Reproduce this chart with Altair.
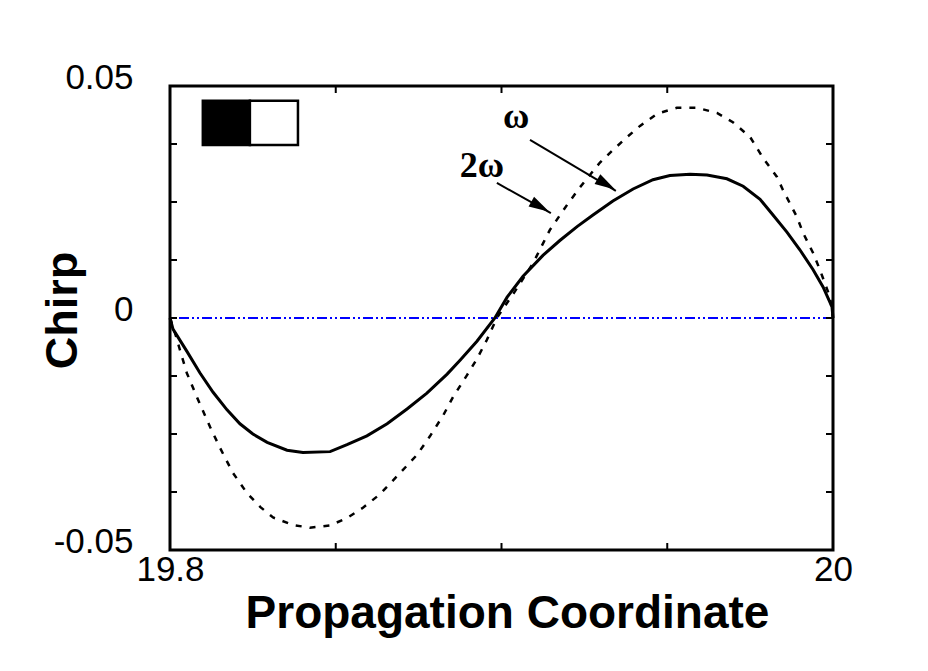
import math
import altair as alt
import pandas as pd

# ---------------- data ----------------
solid_x = [19.8, 19.8009, 19.8051, 19.8090, 19.8130, 19.8172, 19.8211, 19.8250, 19.8293,
           19.8353, 19.8401, 19.8483, 19.8534, 19.8594, 19.8655, 19.8715, 19.8775, 19.8836,
           19.8875, 19.8926, 19.8980, 19.9017, 19.9065, 19.9125, 19.9176, 19.9228, 19.9276,
           19.9336, 19.9397, 19.9457, 19.9508, 19.9569, 19.9620, 19.9680, 19.9729, 19.9780,
           19.9819, 19.9861, 19.9900, 19.9940, 19.9970, 19.9997, 20.0]
solid_y = [0.0, -0.0024, -0.0072, -0.0118, -0.0160, -0.0198, -0.0228, -0.0250, -0.0268,
           -0.0285, -0.0290, -0.0288, -0.0273, -0.0254, -0.0228, -0.0196, -0.0162, -0.0121,
           -0.0091, -0.0050, 0.0, 0.0045, 0.0090, 0.0135, 0.0167, 0.0197, 0.0222,
           0.0252, 0.0278, 0.0298, 0.0307, 0.0310, 0.0308, 0.0300, 0.0284, 0.0256,
           0.0222, 0.0185, 0.0147, 0.0104, 0.0067, 0.0024, 0.0]

dashed_x = [19.8, 19.8015, 19.8030, 19.8051, 19.8081, 19.8121, 19.8151, 19.8190, 19.8232,
            19.8272, 19.8311, 19.8371, 19.8422, 19.8483, 19.8534, 19.8582, 19.8633, 19.8694,
            19.8745, 19.8784, 19.8824, 19.8854, 19.8896, 19.8926, 19.8956, 19.8986, 19.9041,
            19.9095, 19.9146, 19.9198, 19.9237, 19.9297, 19.9336, 19.9379, 19.9418, 19.9469,
            19.9529, 19.9590, 19.9650, 19.9698, 19.9750, 19.9789, 19.9831, 19.9849, 19.9891,
            19.9910, 19.9940, 19.9961, 19.9991, 20.0]
dashed_y = [0.0, -0.0032, -0.0069, -0.0119, -0.0170, -0.0235, -0.0280, -0.0334, -0.0377,
            -0.0407, -0.0430, -0.0446, -0.0452, -0.0447, -0.0431, -0.0409, -0.0380, -0.0334,
            -0.0295, -0.0255, -0.0210, -0.0170, -0.0123, -0.0088, -0.0047, 0.0, 0.0058,
            0.0118, 0.0190, 0.0244, 0.0282, 0.0335, 0.0362, 0.0390, 0.0414, 0.0440,
            0.0453, 0.0453, 0.0442, 0.0422, 0.0390, 0.0345, 0.0304, 0.0276, 0.0218,
            0.0183, 0.0140, 0.0103, 0.0045, 0.0]

x_domain = [19.8, 20.0]
y_domain = [-0.05, 0.05]
x_label_values = [19.8, 20.0]
x_label_texts = ["19.8", "20"]
y_label_values = [-0.05, 0.0, 0.05]
y_label_texts = ["-0.05", "0", "0.05"]
x_minor_ticks = [19.85, 19.9, 19.95]
y_minor_ticks = [-0.0375, -0.025, -0.0125, 0.0, 0.0125, 0.025, 0.0375]

# annotation labels (text baseline positions) and arrows (start -> tip, head centre)
ann_labels = ["ω", "2ω"]
ann_text_x = [19.9044, 19.8941]
ann_text_y = [0.0410, 0.0304]
arrow_start_x = [19.9086, 19.8986]
arrow_start_y = [0.0384, 0.0291]
arrow_tip_x = [19.9345, 19.9149]
arrow_tip_y = [0.0274, 0.0226]
arrow_head_x = [19.9316, 19.9117]
arrow_head_y = [0.0288, 0.0240]

# small black / white boxes at top-left
box_x = [19.8099, 19.8241]
box_x2 = [19.8241, 19.8386]
box_y = [0.0373, 0.0373]
box_y2 = [0.0468, 0.0468]
box_fill = ["black", "white"]

# ---------------- chart ----------------
W, H = 663, 464


def lbl_expr(values, texts):
    parts = [f"abs(datum.value - ({v})) < 1e-9 ? '{t}'" for v, t in zip(values, texts)]
    return " : ".join(parts) + " : ''"


FONT = "Liberation Sans"

xscale = alt.Scale(domain=x_domain, nice=False, zero=False)
yscale = alt.Scale(domain=y_domain, nice=False, zero=False)

xenc = alt.X(
    "x:Q", scale=xscale, title="Propagation Coordinate",
    axis=alt.Axis(values=x_label_values, labelExpr=lbl_expr(x_label_values, x_label_texts),
                  grid=False, ticks=False, tickSize=0, domain=False,
                  labelFont=FONT, labelFontSize=35, labelColor="black",
                  labelAlign="center", labelBaseline="top", labelPadding=2,
                  labelFlush=False, labelOverlap=False, labelBound=False,
                  titleFont=FONT, titleFontSize=46, titleFontWeight="bold", titleColor="black",
                  titleX=337, titleY=77, titleBaseline="alphabetic", titleAlign="center"),
)
yenc = alt.Y(
    "y:Q", scale=yscale, title="Chirp",
    axis=alt.Axis(values=y_label_values, labelExpr=lbl_expr(y_label_values, y_label_texts),
                  grid=False, ticks=False, tickSize=0, domain=False,
                  labelFont=FONT, labelFontSize=35, labelColor="black",
                  labelAlign="right", labelBaseline="middle", labelPadding=37, labelOffset=-9,
                  labelFlush=False, labelOverlap=False, labelBound=False,
                  titleFont=FONT, titleFontSize=45, titleFontWeight="bold", titleColor="black",
                  titleAngle=270, titleX=-108, titleY=224, titleAlign="center",
                  titleBaseline="middle"),
)

solid_df = pd.DataFrame({"x": solid_x, "y": solid_y})
dashed_df = pd.DataFrame({"x": dashed_x, "y": dashed_y})

solid = alt.Chart(solid_df).mark_line(color="black", strokeWidth=3).encode(x=xenc, y=yenc)
dashed = alt.Chart(dashed_df).mark_line(color="black", strokeWidth=2.5, strokeDash=[6, 8]).encode(
    x=xenc, y=yenc)

zero_line = alt.Chart(pd.DataFrame({"y": [0.0]})).mark_rule(
    color="#0000ff", strokeWidth=2, strokeDash=[10, 3, 2, 3, 2, 3]
).encode(y=yenc)

yt = pd.DataFrame({"y": y_minor_ticks})
xt = pd.DataFrame({"x": x_minor_ticks})
tick_l = alt.Chart(yt).mark_rule(color="black", strokeWidth=2).encode(
    y=yenc, x=alt.value(0), x2=alt.value(7))
tick_r = alt.Chart(yt).mark_rule(color="black", strokeWidth=2).encode(
    y=yenc, x=alt.value(W - 7), x2=alt.value(W))
tick_t = alt.Chart(xt).mark_rule(color="black", strokeWidth=2).encode(
    x=xenc, y=alt.value(0), y2=alt.value(7))
tick_b = alt.Chart(xt).mark_rule(color="black", strokeWidth=2).encode(
    x=xenc, y=alt.value(H - 7), y2=alt.value(H))

box_df = pd.DataFrame({"x": box_x, "x2": box_x2, "y": box_y, "y2": box_y2, "fill": box_fill})
boxes = alt.Chart(box_df).mark_rect(stroke="black", strokeWidth=2.5).encode(
    x=xenc, x2="x2:Q", y=yenc, y2="y2:Q",
    fill=alt.Fill("fill:N", scale=None, legend=None))

seg_rows = []
for i in range(len(ann_labels)):
    seg_rows.append({"x": arrow_start_x[i], "y": arrow_start_y[i], "id": i, "o": 0})
    seg_rows.append({"x": arrow_tip_x[i], "y": arrow_tip_y[i], "id": i, "o": 1})
seg_df = pd.DataFrame(seg_rows)
segs = alt.Chart(seg_df).mark_line(color="black", strokeWidth=2).encode(
    x=xenc, y=yenc, detail="id:N", order="o:Q")

px_per_x = W / (x_domain[1] - x_domain[0])
px_per_y = H / (y_domain[1] - y_domain[0])
angles = []
for i in range(len(ann_labels)):
    dxs = (arrow_tip_x[i] - arrow_start_x[i]) * px_per_x
    dys = -(arrow_tip_y[i] - arrow_start_y[i]) * px_per_y
    angles.append((math.degrees(math.atan2(dxs, -dys)) + 360) % 360)
head_df = pd.DataFrame({"x": arrow_head_x, "y": arrow_head_y, "a": angles})
heads = alt.Chart(head_df).mark_point(shape="M0,-1L0.55,1L-0.55,1Z", filled=True, color="black",
                                      size=420, opacity=1, strokeWidth=0).encode(
    x=xenc, y=yenc, angle=alt.Angle("a:Q", scale=None))

text_df = pd.DataFrame({"x": ann_text_x, "y": ann_text_y, "t": ann_labels})
texts = alt.Chart(text_df).mark_text(font="Liberation Serif", fontSize=36, fontWeight="bold",
                                     color="black", align="center", baseline="alphabetic").encode(
    x=xenc, y=yenc, text="t:N")

chart = alt.layer(
    zero_line, dashed, solid, boxes, segs, heads, texts, tick_l, tick_r, tick_t, tick_b
).properties(
    width=W, height=H,
    autosize=alt.AutoSizeParams(type="none"),
    padding={"left": 162, "top": 78, "right": 70, "bottom": 90},
    background="white",
).configure_view(stroke="black", strokeWidth=3)

chart.save("out.html", embed_options={"renderer": "svg", "actions": False})
